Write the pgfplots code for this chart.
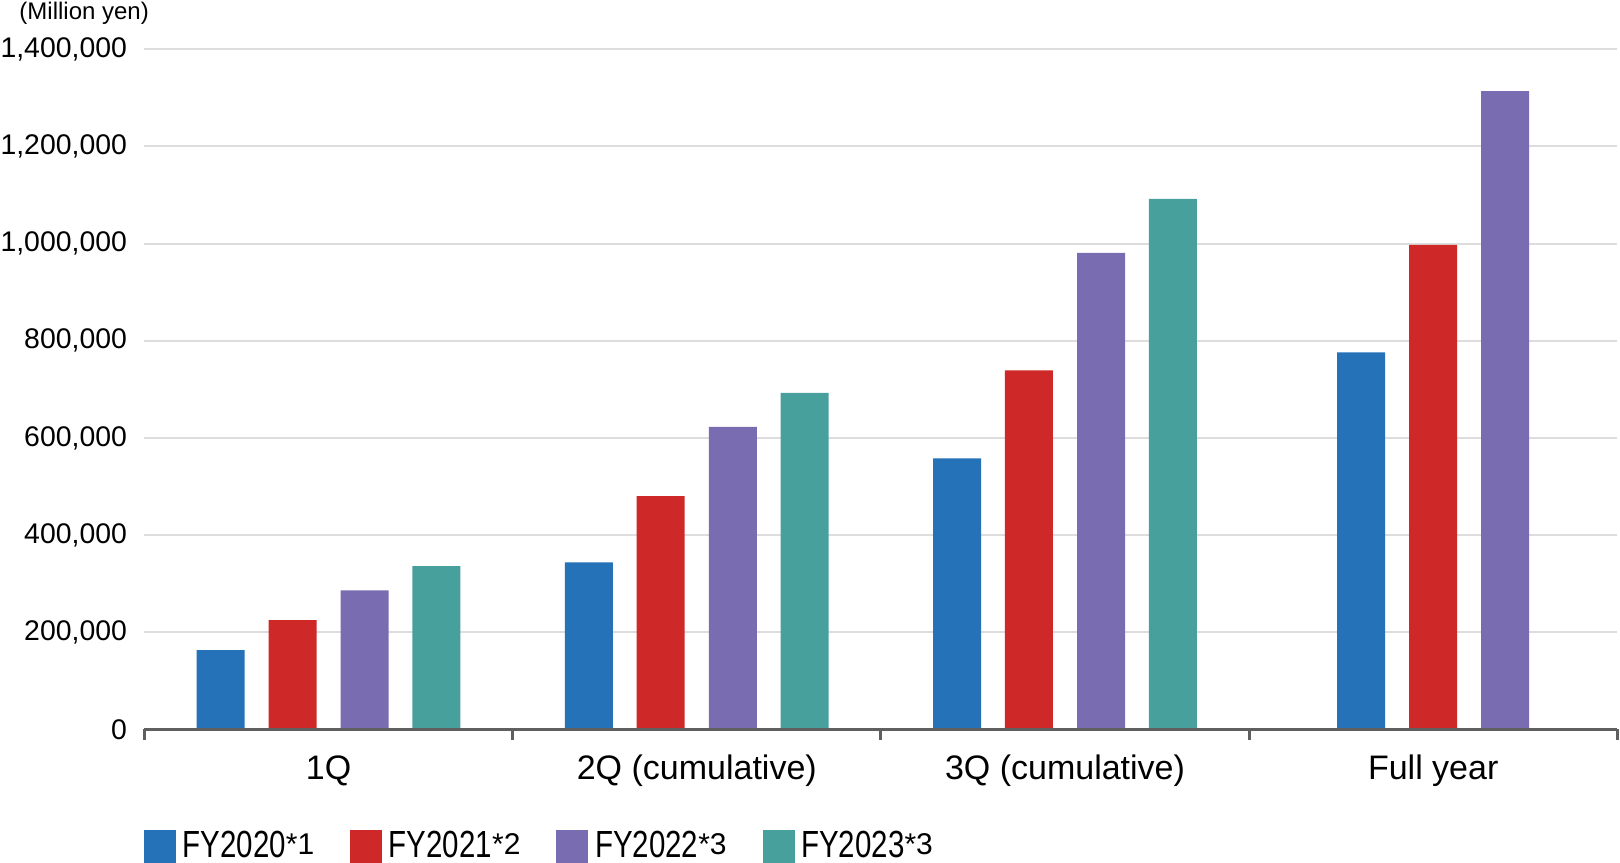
\documentclass[border=0pt]{standalone}
\usepackage{fontspec}
\setmainfont{Liberation Sans}
\usepackage{graphicx}
\usepackage{pgfplots}
\pgfplotsset{compat=1.18}

\definecolor{fyblue}{RGB}{37,114,184}
\definecolor{fyred}{RGB}{206,41,40}
\definecolor{fypurple}{RGB}{122,108,176}
\definecolor{fyteal}{RGB}{72,160,157}
\definecolor{axisgray}{RGB}{95,95,95}
\definecolor{gridgray}{RGB}{221,221,221}

% legend text: condensed name plus small raised footnote mark
\newcommand{\legtext}[2]{\scalebox{0.78}[1]{#1}\raisebox{1.6pt}{\fontsize{15}{15}\selectfont #2}}

\begin{document}
\begin{tikzpicture}
\begin{axis}[
  at={(0,0)}, anchor=south west,
  scale only axis,
  width=736.4pt, height=340.05pt,
  ybar, bar width=0.1304, bar shift=0pt,
  xmin=-0.5, xmax=3.5,
  ymin=0, ymax=1400000,
  enlarge x limits=false,
  axis x line*=bottom,
  axis y line*=left,
  y axis line style={draw=none},
  x axis line style={draw=none},
  xtick={0,1,2,3},
  xticklabels={1Q, 2Q (cumulative), 3Q (cumulative), Full year},
  xtick style={draw=none},
  extra x ticks={-0.5,0.5,1.5,2.5,3.5},
  extra x tick labels={},
  extra x tick style={tick align=outside, major tick length=5.5pt,
    xtick style={draw=axisgray, line width=1.5pt}},
  ytick={0,200000,400000,600000,800000,1000000,1200000,1400000},
  ytick style={draw=none},
  ymajorgrids,
  grid style={draw=gridgray, line width=1pt},
  scaled y ticks=false,
  /pgf/number format/assume math mode=true,
  yticklabel style={/pgf/number format/fixed, /pgf/number format/1000 sep={,},
    font=\fontsize{14.2}{16}\selectfont, anchor=east, inner sep=0pt, xshift=-8.6pt},
  xticklabel style={font=\fontsize{17}{19}\selectfont, anchor=base,
    inner sep=0pt, yshift=-20.6pt},
  legend columns=4,
  legend style={
    at={(rel axis cs:0,0)}, anchor=north west,
    yshift=-50.3pt, xshift=-0.25pt,
    draw=none, fill=none, inner sep=0pt, outer sep=0pt,
    font=\fontsize{18.9}{20}\selectfont,
    nodes={inner sep=0pt},
    /tikz/every odd column/.append style={column sep=3.3pt},
    /tikz/every even column/.append style={column sep=18pt},
  },
  legend image code/.code={\fill[#1] (0pt,-8.8pt) rectangle (16pt,7.9pt);},
  clip=false,
]
% x: category centre 0..3, bars offset within the group
\addplot[fill=fyblue, draw=none, bar shift=0pt] coordinates {
  (-0.293,163000) (0.707,344000) (1.707,558000) (2.8045,776000)};
\addlegendentry{\legtext{FY2020}{*1}}
\addplot[fill=fyred, draw=none, bar shift=0pt] coordinates {
  (-0.098,225000) (0.902,480000) (1.902,739000) (3.0,997500)};
\addlegendentry{\legtext{FY2021}{*2}}
\addplot[fill=fypurple, draw=none, bar shift=0pt] coordinates {
  (0.098,286000) (1.098,623000) (2.098,981000) (3.1955,1314000)};
\addlegendentry{\legtext{FY2022}{*3}}
\addplot[fill=fyteal, draw=none, bar shift=0pt] coordinates {
  (0.293,336000) (1.293,693000) (2.293,1092000)};
\addlegendentry{\legtext{FY2023}{*3}}

\draw[axisgray, line width=1.75pt] (rel axis cs:0,0) -- (rel axis cs:1,0);
\node[anchor=base west, inner sep=0pt, xshift=-62.7pt, yshift=14.95pt,
  font=\fontsize{12}{14}\selectfont] at (rel axis cs:0,1) {(Million yen)};
\end{axis}
\pgfresetboundingbox
\path[use as bounding box] (-72.25pt,-66.3pt) rectangle (737.75pt,364.7pt);
\end{tikzpicture}
\end{document}
